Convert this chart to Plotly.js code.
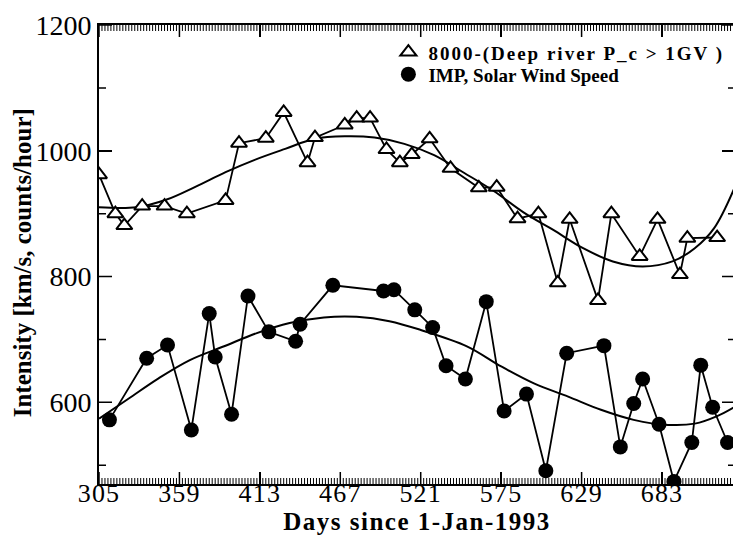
<!DOCTYPE html>
<html>
<head>
<meta charset="utf-8">
<script src="https://cdn.plot.ly/plotly-3.0.1.min.js"></script>
<style>
html, body { margin: 0; padding: 0; overflow: hidden; background: #fff; }
#chart { width: 740px; height: 535px; }
.legendtext { letter-spacing: 2px; }
.xtitle { letter-spacing: 1.5px; }
.xtick text { letter-spacing: 1.2px; }
</style>
</head>
<body>
<div id="chart"></div>
<script>
// Neutron monitor (Deep River) intensity, open triangles
const triDays = [305, 316, 322, 334, 349, 364, 390, 399, 417, 429, 445, 450, 470, 478, 487, 498, 507, 515, 527, 541, 560, 572, 586, 600, 613, 621, 640, 649, 668, 680, 695, 700, 720];
const triVals = [962, 900, 881, 912, 912, 900, 921, 1012, 1020, 1061, 981, 1021, 1041, 1052, 1052, 1002, 981, 994, 1019, 972, 941, 942, 892, 900, 790, 891, 762, 900, 832, 891, 803, 861, 862];

// IMP solar wind speed, filled circles
const circDays = [312, 337, 351, 367, 379, 383, 394, 405, 419, 437, 440, 462, 496, 503, 517, 529, 538, 551, 565, 577, 592, 605, 619, 644, 655, 664, 670, 681, 691, 703, 709, 717, 727];
const circVals = [572, 670, 691, 556, 741, 672, 581, 769, 712, 697, 724, 786, 777, 779, 747, 719, 658, 637, 760, 586, 613, 491, 678, 690, 529, 598, 637, 565, 474, 536, 659, 592, 536];

// smooth fit curves
const fitTriDays = [305, 330, 350, 370, 390, 410, 430, 450, 470, 490, 510, 530, 550, 570, 590, 610, 630, 650, 670, 690, 705, 718, 732];
const fitTriVals = [910, 910, 922, 943, 966, 986, 1003, 1019, 1023, 1021, 1011, 993, 965, 936, 902, 874, 845, 824, 816, 824, 845, 877, 943];
const fitCircDays = [305, 325, 345, 366, 389, 411, 433, 456, 478, 500, 521, 552, 575, 597, 620, 642, 664, 687, 705, 720, 732];
const fitCircVals = [574, 606, 638, 667, 689, 710, 726, 735, 736, 729, 715, 689, 657, 630, 609, 588, 572, 564, 566, 578, 593];

// axis ticks
const xRange = [305, 732];
const yRange = [470, 1200];
const xTick0 = 305, xTickStep = 54, xMinorStep = 2;
const yTick0 = 600, yTickStep = 200, yMinorVals = [500, 700, 900, 1100];
const triName = '8000-(Deep river P_c > 1GV )';
const circName = 'IMP, Solar Wind Speed';
const xTitle = 'Days since 1-Jan-1993';
const yTitle = 'Intensity [km/s, counts/hour]';

const serif = 'Liberation Serif, Times New Roman, serif';
const W = 740, H = 535, M = { l: 99, r: 5, t: 25, b: 51 };
const plotW = W - M.l - M.r, plotH = H - M.t - M.b;

// tick positions from the axis settings
const xMajor = [], xMinor = [], yMajor = [];
for (let v = xTick0; v <= xRange[1]; v += xTickStep) xMajor.push(v);
for (let v = xTick0 + xMinorStep; v <= xRange[1]; v += xMinorStep) if ((v - xTick0) % xTickStep) xMinor.push(v);
for (let v = yTick0; v <= yRange[1]; v += yTickStep) yMajor.push(v);

// inside tick marks on all four sides, drawn through the axes (x/y refs)
function xTickPath(vals, lenPx) {
  const f = lenPx / plotH;
  return vals.map(v => 'M' + v + ',0V' + f + 'M' + v + ',1V' + (1 - f)).join('');
}
function yTickPath(vals, lenPx) {
  const f = lenPx / plotW;
  return vals.map(v => 'M0,' + v + 'H' + f + 'M1,' + v + 'H' + (1 - f)).join('');
}
const tickShapes = [
  { type: 'path', xref: 'x', yref: 'paper', path: xTickPath(xMinor, 6), line: { color: '#000', width: 1 }, layer: 'above' },
  { type: 'path', xref: 'x', yref: 'paper', path: xTickPath(xMajor, 12), line: { color: '#000', width: 1.5 }, layer: 'above' },
  { type: 'path', xref: 'paper', yref: 'y', path: yTickPath(yMinorVals, 7), line: { color: '#000', width: 1.5 }, layer: 'above' },
  { type: 'path', xref: 'paper', yref: 'y', path: yTickPath(yMajor, 13), line: { color: '#000', width: 1.5 }, layer: 'above' }
];

const traces = [
  { x: fitTriDays, y: fitTriVals, mode: 'lines', line: { color: '#000', width: 2, shape: 'spline', smoothing: 1 }, showlegend: false, hoverinfo: 'skip' },
  { x: fitCircDays, y: fitCircVals, mode: 'lines', line: { color: '#000', width: 2, shape: 'spline', smoothing: 1 }, showlegend: false, hoverinfo: 'skip' },
  { x: triDays, y: triVals, mode: 'lines', line: { color: '#000', width: 1.8 }, showlegend: false, hoverinfo: 'skip' },
  { x: circDays, y: circVals, mode: 'lines', line: { color: '#000', width: 1.8 }, showlegend: false, hoverinfo: 'skip' },
  { x: triDays, y: triVals, mode: 'markers', name: triName, legend: 'legend',
    marker: { symbol: 'triangle-up', size: 14, color: '#fff', line: { color: '#000', width: 2 } } },
  { x: circDays, y: circVals, mode: 'markers', name: circName, legend: 'legend2',
    marker: { symbol: 'circle', size: 15, color: '#000', line: { color: '#000', width: 0 } } }
];

const legFont = { family: serif, size: 19, weight: 'bold', color: '#000' };

const layout = {
  width: W, height: H,
  margin: M,
  paper_bgcolor: '#fff', plot_bgcolor: 'rgba(0,0,0,0)',
  font: { family: serif, color: '#000' },
  showlegend: true,
  legend: {
    x: 0.455, y: 0.982, xanchor: 'left', yanchor: 'top',
    bgcolor: 'rgba(0,0,0,0)', borderwidth: 0, font: legFont, itemwidth: 30
  },
  legend2: {
    x: 0.455, y: 0.934, xanchor: 'left', yanchor: 'top',
    bgcolor: 'rgba(0,0,0,0)', borderwidth: 0, font: legFont, itemwidth: 30
  },
  xaxis: {
    range: xRange, showgrid: false, zeroline: false,
    tickmode: 'linear', tick0: xTick0, dtick: xTickStep,
    ticks: 'inside', ticklen: 12, tickwidth: 1.5, tickcolor: '#000',
    showline: true, linecolor: '#000', linewidth: 2, mirror: 'allticks',
    tickfont: { family: serif, size: 26, color: '#000' },
    ticklabelstandoff: -15,
    title: { text: xTitle, font: { family: serif, size: 25, weight: 'bold', color: '#000' }, standoff: 3 }
  },
  yaxis: {
    range: yRange, showgrid: false, zeroline: false,
    tickmode: 'linear', tick0: yTick0, dtick: yTickStep,
    ticks: 'inside', ticklen: 13, tickwidth: 1.5, tickcolor: '#000',
    showline: true, linecolor: '#000', linewidth: 2, mirror: 'allticks',
    tickfont: { family: serif, size: 28, color: '#000' }
  },
  shapes: tickShapes,
  annotations: [{
    text: yTitle, textangle: -90, showarrow: false,
    xref: 'paper', yref: 'paper', x: -0.121, y: 0.481, xanchor: 'center', yanchor: 'middle',
    font: { family: serif, size: 25, weight: 'bold', color: '#000' }
  }]
};

Plotly.newPlot('chart', traces, layout, { displayModeBar: false, staticPlot: true });
</script>
</body>
</html>
